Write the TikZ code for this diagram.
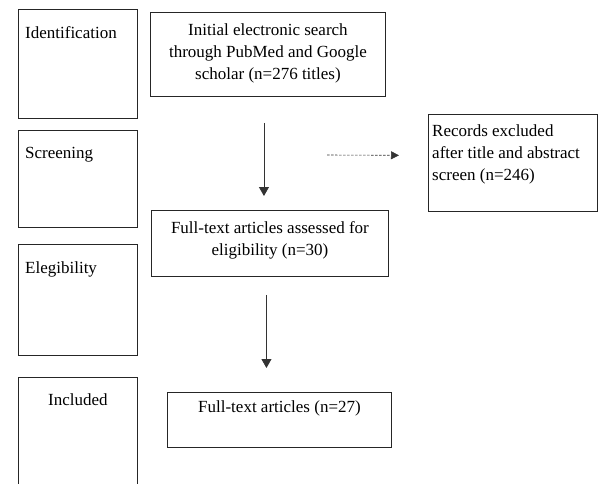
\documentclass[tikz,border=0pt]{standalone}
\usepackage{fontspec}
\setmainfont{Liberation Serif}
\usepackage{tikz}
\usetikzlibrary{arrows.meta,positioning}

\begin{document}
\begin{tikzpicture}[x=1pt,y=-1pt,>={Triangle[length=9pt,width=10pt]},
  phase box/.style={draw=black!85,line width=0.9pt,rectangle,anchor=north west,
                    inner sep=0pt,minimum width=119pt},
  flow box/.style={draw=black!85,line width=0.9pt,rectangle,anchor=north west,inner sep=0pt},
  box text/.style={inner sep=0pt,font=\fontsize{17}{22}\selectfont},
  flow arrow/.style={->,draw=black!80,line width=0.8pt}]
  \useasboundingbox (0,0) rectangle (608,483);

  % phases on the left
  \node[phase box,minimum height=109pt] (ident) at (18,9) {};
  \node[phase box,minimum height=97pt] (screen) at (18,130) {};
  \node[phase box,minimum height=111pt] (elig) at (18,244) {};
  \node[phase box,minimum height=113pt] (incl) at (18,377) {};
  \node[box text,anchor=north west] (identtxt) [below right=17.5pt and 7pt of ident.north west] {Identification};
  \node[box text,anchor=north west] (screentxt) [below right=17.5pt and 7pt of screen.north west] {Screening};
  \node[box text,anchor=north west] (eligtxt) [below right=17pt and 7pt of elig.north west] {Elegibility};
  \node[box text,anchor=north] (incltxt) [below=16pt of incl.north] {Included};

  % flow boxes
  \node[flow box,minimum width=235pt,minimum height=84pt] (init) at (150,12) {};
  \node[flow box,minimum width=237pt,minimum height=66pt] (assessed) at (151,210) {};
  \node[flow box,minimum width=224pt,minimum height=55pt] (final) at (167,392) {};
  \node[flow box,minimum width=169pt,minimum height=97pt] (excl) at (428,114) {};
  \node[box text,align=center,anchor=north] (inittxt) [below=11.5pt of init.north]
    {Initial electronic search\\through PubMed and Google\\scholar (n=276 titles)};
  \node[box text,align=center,anchor=north] (assessedtxt) [below=11pt of assessed.north]
    {Full-text articles assessed for\\eligibility (n=30)};
  \node[box text,anchor=north] (finaltxt) [below=8pt of final.north] {Full-text articles (n=27)};
  \node[box text,align=left,anchor=north west] (excltxt) [below right=10pt and 4pt of excl.north west]
    {Records excluded\\after title and abstract\\screen (n=246)};

  % arrows
  \coordinate (exclfrom) at (327,155);
  \draw[flow arrow,shorten <=26pt,shorten >=14pt] ([xshift=-4pt]init.south) -- ([xshift=-6pt]assessed.north);
  \draw[flow arrow,shorten <=18pt,shorten >=24pt] ([xshift=-3.5pt]assessed.south) -- ([xshift=-13pt]final.north);
  \draw[flow arrow,line width=0.6pt,dash pattern=on 2.5pt off 1.5pt,shorten >=29pt,
        -{Triangle[length=8pt,width=8pt]}] (exclfrom) -- ([yshift=7.5pt]excl.west);
\end{tikzpicture}
\end{document}
